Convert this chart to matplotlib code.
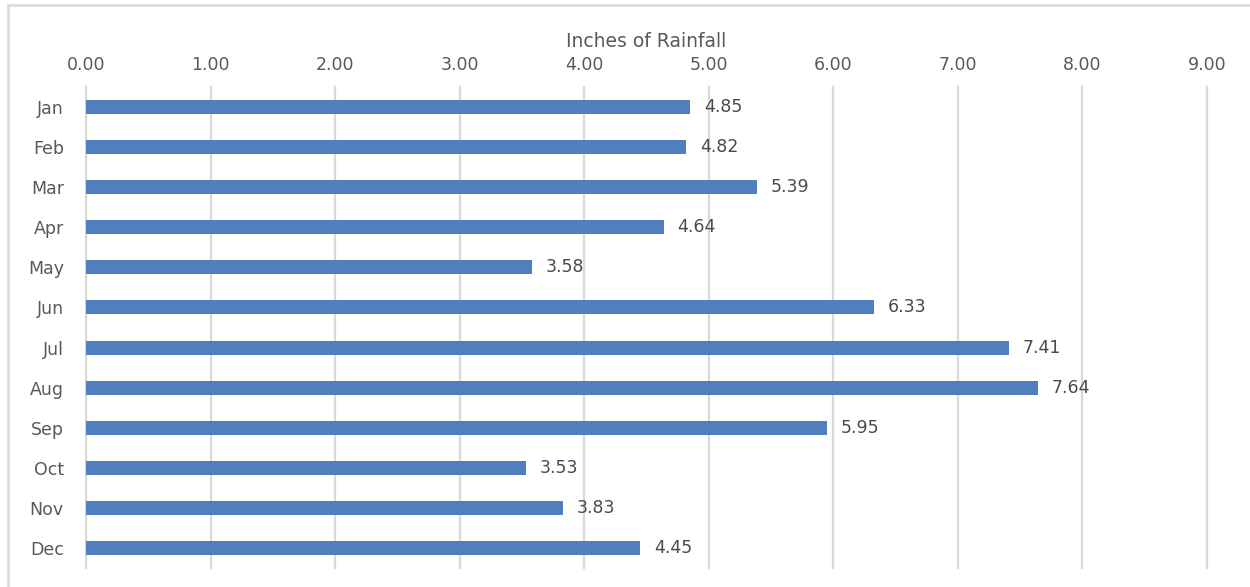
import matplotlib.pyplot as plt
from matplotlib.lines import Line2D
from matplotlib.ticker import FormatStrFormatter

monate = ['Jan', 'Feb', 'Mar', 'Apr', 'May', 'Jun', 'Jul', 'Aug', 'Sep', 'Oct', 'Nov', 'Dec']
regen = [4.85, 4.82, 5.39, 4.64, 3.58, 6.33, 7.41, 7.64, 5.95, 3.53, 3.83, 4.45]
ticks_x = [0, 1, 2, 3, 4, 5, 6, 7, 8, 9]

plt.rcParams['font.family'] = ['DejaVu Sans']
grau = '#595959'

fig = plt.figure(figsize=(12.5, 5.87), dpi=100)
achse = fig.add_axes([86 / 1250, 1 - 568 / 587, 1121 / 1250, 481 / 587])

# Rahmen: nur oben und links sichtbar
rx, ry = 7.5 / 1250, 1 - 5 / 587
for xs, ys in [([rx, 1.0], [ry, ry]), ([rx, rx], [ry, 0.0])]:
    fig.add_artist(Line2D(xs, ys, transform=fig.transFigure,
                          color='#d9d9d9', linewidth=1.8))

pos = list(range(len(monate)))
achse.barh(pos, regen, height=0.35, color='#4f80bd', zorder=3)
for y, v in zip(pos, regen):
    achse.text(v + 0.11, y, f'{v:.2f}', va='center', ha='left',
               fontsize=12.5, color='#4a4a4a')

achse.set_xlim(0, 9)
achse.set_ylim(11.5, -0.5)
achse.set_xticks(ticks_x)
achse.xaxis.set_major_formatter(FormatStrFormatter('%.2f'))
achse.xaxis.tick_top()
achse.xaxis.set_label_position('top')
achse.set_xlabel('Inches of Rainfall', fontsize=13.5, color=grau, labelpad=6.5)
achse.set_yticks(pos)
achse.set_yticklabels(monate)
achse.tick_params(axis='x', length=0, pad=9, labelsize=12.5, labelcolor=grau)
achse.tick_params(axis='y', length=0, pad=16, labelsize=12.5, labelcolor=grau)
for s in achse.spines.values():
    s.set_visible(False)
achse.grid(axis='x', color='#d9d9d9', linewidth=1.6, zorder=0)
for g in achse.get_xgridlines():
    g.set_clip_on(False)

fig.savefig('out.png', dpi=100)
